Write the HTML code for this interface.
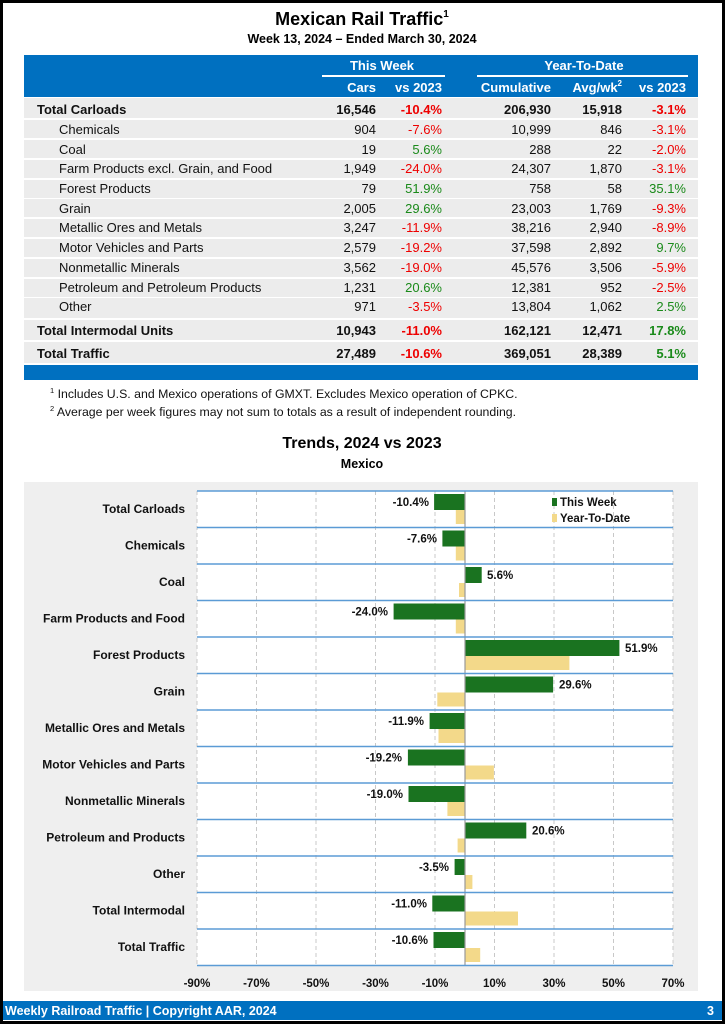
<!DOCTYPE html>
<html><head><meta charset="utf-8"><style>
html,body{margin:0;padding:0;background:#fff}
svg{display:block;font-family:"Liberation Sans",Arial,sans-serif}
</style></head><body>
<svg width="725" height="1024" viewBox="0 0 725 1024" xmlns="http://www.w3.org/2000/svg">
<rect x="1.5" y="1.5" width="722" height="1021" fill="#fff" stroke="#000" stroke-width="3"/>
<text x="362" y="25" text-anchor="middle" font-size="18" font-weight="bold">Mexican Rail Traffic<tspan font-size="10" dy="-8">1</tspan></text>
<text x="362" y="43" text-anchor="middle" font-size="12.5" font-weight="bold">Week 13, 2024 – Ended March 30, 2024</text>
<rect x="24" y="55" width="674" height="42" fill="#0070c0"/>
<g fill="#fff" font-weight="bold" font-size="13" text-anchor="middle">
<text x="382" y="70">This Week</text>
<text x="584" y="70">Year-To-Date</text>
</g>
<rect x="322" y="75" width="123" height="2" fill="#fff"/>
<rect x="477" y="75" width="211" height="2" fill="#fff"/>
<g fill="#fff" font-weight="bold" font-size="13" text-anchor="end">
<text x="376" y="92">Cars</text><text x="442" y="92">vs 2023</text>
<text x="551" y="92">Cumulative</text><text x="622" y="92">Avg/wk<tspan font-size="8" dy="-6">2</tspan></text><text x="686" y="92">vs 2023</text>
</g>
<g fill="#ececec">
<rect x="24" y="98" width="674" height="20"/>
<rect x="24" y="120" width="674" height="18"/>
<rect x="24" y="140" width="674" height="18"/>
<rect x="24" y="160" width="674" height="18"/>
<rect x="24" y="180" width="674" height="18"/>
<rect x="24" y="199" width="674" height="18"/>
<rect x="24" y="219" width="674" height="18"/>
<rect x="24" y="239" width="674" height="18"/>
<rect x="24" y="259" width="674" height="18"/>
<rect x="24" y="279" width="674" height="18"/>
<rect x="24" y="298" width="674" height="20"/>
<rect x="24" y="320" width="674" height="20"/>
<rect x="24" y="342" width="674" height="21"/>
</g>
<rect x="24" y="365" width="674" height="15" fill="#0070c0"/>
<g font-size="13" fill="#111">
<g font-weight="bold"><text x="37" y="114">Total Carloads</text><text x="37" y="335">Total Intermodal Units</text><text x="37" y="358">Total Traffic</text></g>
<text x="59" y="134">Chemicals</text><text x="59" y="154">Coal</text><text x="59" y="173">Farm Products excl. Grain, and Food</text>
<text x="59" y="193">Forest Products</text><text x="59" y="213">Grain</text><text x="59" y="232">Metallic Ores and Metals</text>
<text x="59" y="252">Motor Vehicles and Parts</text><text x="59" y="272">Nonmetallic Minerals</text><text x="59" y="292">Petroleum and Petroleum Products</text>
<text x="59" y="311">Other</text>
</g>
<g font-size="13" text-anchor="end" fill="#111">
<g font-weight="bold"><text x="376" y="114">16,546</text><text x="551" y="114">206,930</text><text x="622" y="114">15,918</text>
<text x="376" y="335">10,943</text><text x="551" y="335">162,121</text><text x="622" y="335">12,471</text>
<text x="376" y="358">27,489</text><text x="551" y="358">369,051</text><text x="622" y="358">28,389</text></g>
<text x="376" y="134">904</text><text x="551" y="134">10,999</text><text x="622" y="134">846</text>
<text x="376" y="154">19</text><text x="551" y="154">288</text><text x="622" y="154">22</text>
<text x="376" y="173">1,949</text><text x="551" y="173">24,307</text><text x="622" y="173">1,870</text>
<text x="376" y="193">79</text><text x="551" y="193">758</text><text x="622" y="193">58</text>
<text x="376" y="213">2,005</text><text x="551" y="213">23,003</text><text x="622" y="213">1,769</text>
<text x="376" y="232">3,247</text><text x="551" y="232">38,216</text><text x="622" y="232">2,940</text>
<text x="376" y="252">2,579</text><text x="551" y="252">37,598</text><text x="622" y="252">2,892</text>
<text x="376" y="272">3,562</text><text x="551" y="272">45,576</text><text x="622" y="272">3,506</text>
<text x="376" y="292">1,231</text><text x="551" y="292">12,381</text><text x="622" y="292">952</text>
<text x="376" y="311">971</text><text x="551" y="311">13,804</text><text x="622" y="311">1,062</text>
</g>
<g font-size="13" text-anchor="end">
<g font-weight="bold"><text x="442" y="114" fill="#e00">-10.4%</text><text x="686" y="114" fill="#e00">-3.1%</text>
<text x="442" y="335" fill="#e00">-11.0%</text><text x="686" y="335" fill="#1a8a1a">17.8%</text>
<text x="442" y="358" fill="#e00">-10.6%</text><text x="686" y="358" fill="#1a8a1a">5.1%</text></g>
<text x="442" y="134" fill="#e00">-7.6%</text><text x="686" y="134" fill="#e00">-3.1%</text>
<text x="442" y="154" fill="#1a8a1a">5.6%</text><text x="686" y="154" fill="#e00">-2.0%</text>
<text x="442" y="173" fill="#e00">-24.0%</text><text x="686" y="173" fill="#e00">-3.1%</text>
<text x="442" y="193" fill="#1a8a1a">51.9%</text><text x="686" y="193" fill="#1a8a1a">35.1%</text>
<text x="442" y="213" fill="#1a8a1a">29.6%</text><text x="686" y="213" fill="#e00">-9.3%</text>
<text x="442" y="232" fill="#e00">-11.9%</text><text x="686" y="232" fill="#e00">-8.9%</text>
<text x="442" y="252" fill="#e00">-19.2%</text><text x="686" y="252" fill="#1a8a1a">9.7%</text>
<text x="442" y="272" fill="#e00">-19.0%</text><text x="686" y="272" fill="#e00">-5.9%</text>
<text x="442" y="292" fill="#1a8a1a">20.6%</text><text x="686" y="292" fill="#e00">-2.5%</text>
<text x="442" y="311" fill="#e00">-3.5%</text><text x="686" y="311" fill="#1a8a1a">2.5%</text>
</g>
<g font-size="12.3" fill="#111">
<text x="50" y="398"><tspan font-size="7.5" dy="-5">1</tspan><tspan dy="5"> Includes U.S. and Mexico operations of GMXT. Excludes Mexico operation of CPKC.</tspan></text>
<text x="50" y="416"><tspan font-size="7.5" dy="-5">2</tspan><tspan dy="5"> Average per week figures may not sum to totals as a result of independent rounding.</tspan></text>
</g>
<text x="362" y="448" text-anchor="middle" font-size="16" font-weight="bold">Trends, 2024 vs 2023</text>
<text x="362" y="468" text-anchor="middle" font-size="12.5" font-weight="bold">Mexico</text>
<rect x="24" y="482" width="674" height="509" fill="#efefef"/>
<rect x="197" y="491" width="476" height="475" fill="#fff"/>
<g stroke="#c8c8c8" stroke-dasharray="4,3" stroke-width="1">
<line x1="197" y1="491" x2="197" y2="966"/><line x1="256.5" y1="491" x2="256.5" y2="966"/><line x1="316" y1="491" x2="316" y2="966"/>
<line x1="375.5" y1="491" x2="375.5" y2="966"/><line x1="435" y1="491" x2="435" y2="966"/><line x1="494.5" y1="491" x2="494.5" y2="966"/>
<line x1="554" y1="491" x2="554" y2="966"/><line x1="613.5" y1="491" x2="613.5" y2="966"/><line x1="673" y1="491" x2="673" y2="966"/>
</g>
<g fill="#1a7320">
<rect x="434.1" y="494" width="30.9" height="16"/><rect x="442.4" y="530.5" width="22.6" height="16"/>
<rect x="465" y="567" width="16.7" height="16"/><rect x="393.6" y="603.5" width="71.4" height="16"/>
<rect x="465" y="640" width="154.4" height="16"/><rect x="465" y="676.5" width="88.1" height="16"/>
<rect x="429.6" y="713" width="35.4" height="16"/><rect x="407.9" y="749.5" width="57.1" height="16"/>
<rect x="408.5" y="786" width="56.5" height="16"/><rect x="465" y="822.5" width="61.3" height="16"/>
<rect x="454.6" y="859" width="10.4" height="16"/><rect x="432.3" y="895.5" width="32.7" height="16"/>
<rect x="433.5" y="932" width="31.5" height="16"/>
</g>
<g fill="#f3d98a">
<rect x="455.8" y="510" width="9.2" height="14"/><rect x="455.8" y="546.5" width="9.2" height="14"/>
<rect x="459" y="583" width="6" height="14"/><rect x="455.8" y="619.5" width="9.2" height="14"/>
<rect x="465" y="656" width="104.4" height="14"/><rect x="437.3" y="692.5" width="27.7" height="14"/>
<rect x="438.5" y="729" width="26.5" height="14"/><rect x="465" y="765.5" width="28.9" height="14"/>
<rect x="447.4" y="802" width="17.6" height="14"/><rect x="457.6" y="838.5" width="7.4" height="14"/>
<rect x="465" y="875" width="7.4" height="14"/><rect x="465" y="911.5" width="53" height="14"/>
<rect x="465" y="948" width="15.2" height="14"/>
</g>
<line x1="465" y1="491" x2="465" y2="966" stroke="#999" stroke-width="1.2"/>
<g stroke="#5b9bd5" stroke-width="1.5">
<line x1="197" y1="491" x2="673" y2="491"/><line x1="197" y1="527.5" x2="673" y2="527.5"/><line x1="197" y1="564" x2="673" y2="564"/>
<line x1="197" y1="600.5" x2="673" y2="600.5"/><line x1="197" y1="637" x2="673" y2="637"/><line x1="197" y1="673.5" x2="673" y2="673.5"/>
<line x1="197" y1="710" x2="673" y2="710"/><line x1="197" y1="746.5" x2="673" y2="746.5"/><line x1="197" y1="783" x2="673" y2="783"/>
<line x1="197" y1="819.5" x2="673" y2="819.5"/><line x1="197" y1="856" x2="673" y2="856"/><line x1="197" y1="892.5" x2="673" y2="892.5"/>
<line x1="197" y1="929" x2="673" y2="929"/><line x1="197" y1="965.5" x2="673" y2="965.5"/>
</g>
<g font-size="12" font-weight="bold" fill="#111" text-anchor="end">
<text x="185" y="513">Total Carloads</text><text x="185" y="549.5">Chemicals</text><text x="185" y="586">Coal</text>
<text x="185" y="622.5">Farm Products and Food</text><text x="185" y="659">Forest Products</text><text x="185" y="695.5">Grain</text>
<text x="185" y="732">Metallic Ores and Metals</text><text x="185" y="768.5">Motor Vehicles and Parts</text><text x="185" y="805">Nonmetallic Minerals</text>
<text x="185" y="841.5">Petroleum and Products</text><text x="185" y="878">Other</text><text x="185" y="914.5">Total Intermodal</text>
<text x="185" y="951">Total Traffic</text>
</g>
<g font-size="11.5" font-weight="bold" fill="#111">
<g text-anchor="end">
<text x="429" y="506">-10.4%</text><text x="437" y="542.5">-7.6%</text><text x="388" y="615.5">-24.0%</text>
<text x="424" y="725">-11.9%</text><text x="402" y="761.5">-19.2%</text><text x="403" y="798">-19.0%</text>
<text x="449" y="871">-3.5%</text><text x="427" y="907.5">-11.0%</text><text x="428" y="944">-10.6%</text>
</g>
<text x="487" y="579">5.6%</text><text x="625" y="652">51.9%</text><text x="559" y="688.5">29.6%</text><text x="532" y="834.5">20.6%</text>
</g>
<rect x="552" y="498" width="5" height="8" fill="#1a7320"/>
<rect x="552" y="514" width="5" height="8" fill="#f3d98a"/>
<g font-size="11.5" font-weight="bold" fill="#111"><text x="560" y="506">This Week</text><text x="560" y="522">Year-To-Date</text></g>
<g font-size="11.5" font-weight="bold" fill="#111" text-anchor="middle">
<text x="197" y="987">-90%</text><text x="256.5" y="987">-70%</text><text x="316" y="987">-50%</text><text x="375.5" y="987">-30%</text>
<text x="435" y="987">-10%</text><text x="494.5" y="987">10%</text><text x="554" y="987">30%</text><text x="613.5" y="987">50%</text><text x="673" y="987">70%</text>
</g>
<rect x="3" y="1001" width="719" height="19" fill="#0070c0"/>
<text x="5" y="1015" font-size="12.5" font-weight="bold" fill="#fff">Weekly Railroad Traffic | Copyright AAR, 2024</text>
<text x="714" y="1015" font-size="12.5" font-weight="bold" fill="#fff" text-anchor="end">3</text>
</svg>
</body></html>
